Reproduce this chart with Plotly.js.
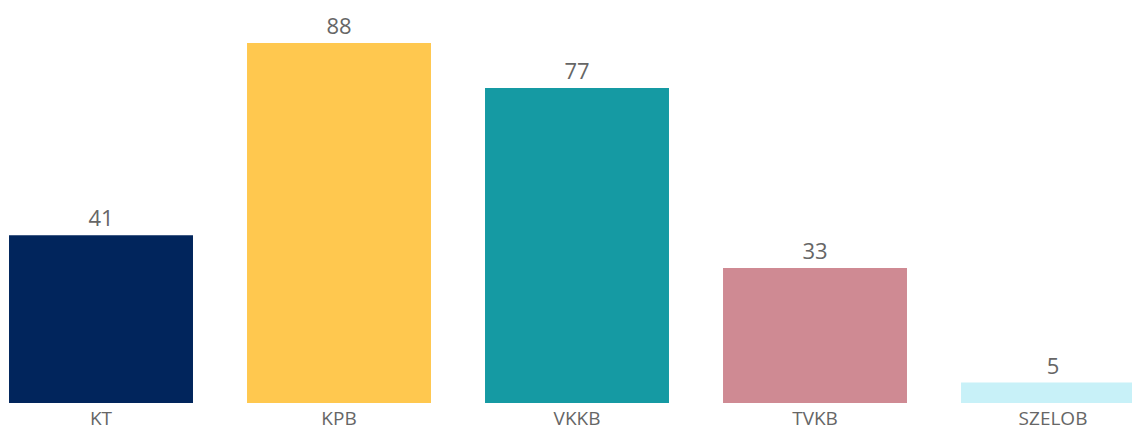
<!DOCTYPE html>
<html>
<head>
<meta charset="utf-8">
<script src="https://cdn.plot.ly/plotly-3.0.1.min.js"></script>
<style>html,body{margin:0;padding:0;background:#fff;}#chart{width:1132px;height:430px;}</style>
</head>
<body>
<div id="chart"></div>
<script>
const categories = ["KT", "KPB", "VKKB", "TVKB", "SZELOB"];
const values = [41, 88, 77, 33, 5];
const barColors = ["#01255C", "#FFC84F", "#159AA3", "#CF8A93", "#C8F1F8"];

const trace = {
  type: "bar",
  x: categories,
  y: values,
  text: values.map(String),
  textposition: "outside",
  cliponaxis: false,
  textfont: {family: "Segoe UI, Open Sans, sans-serif", size: 22, color: "#666666"},
  marker: {color: barColors},
  width: 0.773,
  hoverinfo: "none"
};

const layout = {
  width: 1132,
  height: 430,
  margin: {l: 0, r: 0, t: 0, b: 27, pad: 0},
  paper_bgcolor: "#ffffff",
  plot_bgcolor: "#ffffff",
  showlegend: false,
  xaxis: {
    type: "category",
    range: [-0.4244, 4.3319],
    showgrid: false,
    zeroline: false,
    showline: false,
    ticks: "",
    ticklabelstandoff: 2,
    tickfont: {family: "Segoe UI, Open Sans, sans-serif", size: 19, color: "#666666"},
    fixedrange: true
  },
  yaxis: {
    range: [0, 98.5],
    showgrid: false,
    zeroline: false,
    showline: false,
    showticklabels: false,
    ticks: "",
    fixedrange: true
  }
};

Plotly.newPlot("chart", [trace], layout, {displayModeBar: false, staticPlot: true});
</script>
</body>
</html>
